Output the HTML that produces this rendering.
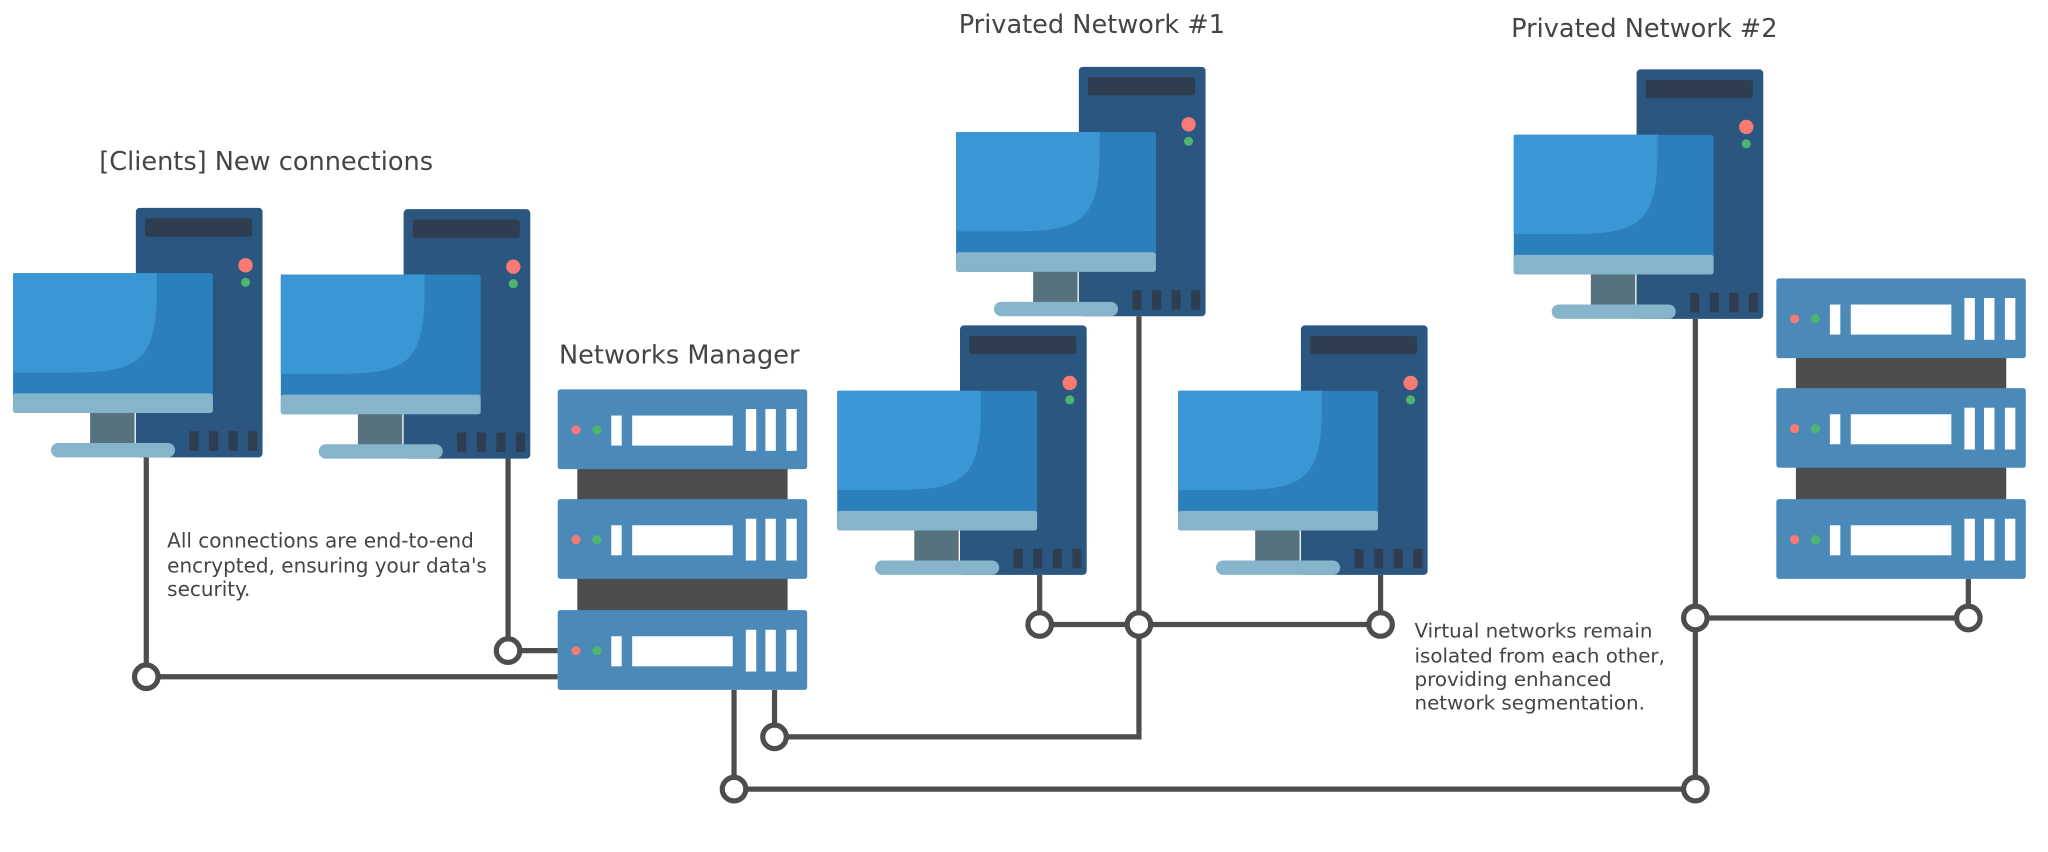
<!DOCTYPE html>
<html><head><meta charset="utf-8"><style>
html,body{margin:0;padding:0;background:#fff;}
svg{display:block;}
text{font-family:"DejaVu Sans","Liberation Sans",sans-serif;fill:#444;}
</style></head><body>
<svg width="2048" height="852" viewBox="0 0 1568 652" xmlns="http://www.w3.org/2000/svg">
<defs>
<g id="pc">
<rect x="0" y="0" width="97" height="191" rx="3" fill="#2a5680"/>
<rect x="7" y="8" width="82" height="14" rx="2" fill="#2e3e50"/>
<circle cx="84" cy="44" r="5.5" fill="#f77b73"/>
<circle cx="84" cy="57" r="3.5" fill="#4db56d"/>
<rect x="41" y="171" width="7" height="15" fill="#2e3e50"/>
<rect x="56" y="171" width="7" height="15" fill="#2e3e50"/>
<rect x="71" y="171" width="7" height="15" fill="#2e3e50"/>
<rect x="86" y="171" width="7" height="15" fill="#2e3e50"/>
<rect x="-94" y="50" width="153" height="107" rx="2" fill="#2b80bc"/>
<path d="M-94 50 H16 V62 C16 118 2 126 -50 126 H-94 Z" fill="#3b97d3"/>
<rect x="-94" y="142" width="153" height="15" rx="2" fill="#86b4cb"/>
<rect x="-35" y="157" width="34" height="24" fill="#55727e"/>
<rect x="-65" y="180" width="95" height="11" rx="5.5" fill="#86b4cb"/>
</g>
<g id="unit">
<rect x="0" y="0" width="191" height="61" rx="2" fill="#4a89b8"/>
<circle cx="14" cy="31" r="3.5" fill="#f77b73"/>
<circle cx="30" cy="31" r="3.5" fill="#4db56d"/>
<rect x="41" y="20" width="8" height="23" fill="#fff"/>
<rect x="57" y="20" width="77" height="23" fill="#fff"/>
<rect x="144" y="15" width="8" height="32" fill="#fff"/>
<rect x="159" y="15" width="8" height="32" fill="#fff"/>
<rect x="175" y="15" width="8" height="32" fill="#fff"/>
</g>
<g id="rack">
<rect x="15" y="55" width="161" height="40" fill="#4d4d4d"/>
<rect x="15" y="139" width="161" height="40" fill="#4d4d4d"/>
<use href="#unit" y="0"/>
<use href="#unit" y="84"/>
<use href="#unit" y="169"/>
</g>
</defs>

<g stroke="#4d4d4d" stroke-width="4" fill="none">
<path d="M112 350 V518 H427"/>
<path d="M389 350 V498 H427"/>
<path d="M593 528 V564 H872 V478"/>
<path d="M562 528 V604 H1298 V244"/>
<path d="M872 242 V478"/>
<path d="M796 440 V478 H1057 V440"/>
<path d="M1298 473 H1507 V443"/>
</g>

<use href="#pc" x="104" y="159"/>
<use href="#pc" x="309" y="160"/>
<use href="#pc" x="826" y="51"/>
<use href="#pc" x="735" y="249"/>
<use href="#pc" x="996" y="249"/>
<use href="#pc" x="1253" y="53"/>
<use href="#rack" x="427" y="298"/>
<use href="#rack" x="1360" y="213"/>

<g stroke="#4d4d4d" stroke-width="4" fill="#fff">
<circle cx="112" cy="518" r="9"/>
<circle cx="389" cy="498" r="9"/>
<circle cx="593" cy="564" r="9"/>
<circle cx="562" cy="604" r="9"/>
<circle cx="1298" cy="604" r="9"/>
<circle cx="1298" cy="473" r="9"/>
<circle cx="1507" cy="473" r="9"/>
<circle cx="796" cy="478" r="9"/>
<circle cx="872" cy="478" r="9"/>
<circle cx="1057" cy="478" r="9"/>
</g>

<text x="76" y="130" font-size="19.6">[Clients] New connections</text>
<text x="428" y="278" font-size="19.6">Networks Manager</text>
<text x="734" y="25" font-size="19.6">Privated Network #1</text>
<text x="1157" y="28" font-size="19.6">Privated Network #2</text>
<text font-size="15.3"><tspan x="128" y="419">All connections are end-to-end</tspan><tspan x="128" y="438">encrypted, ensuring your data's</tspan><tspan x="128" y="456">security.</tspan></text>
<text font-size="15.2"><tspan x="1083" y="488">Virtual networks remain</tspan><tspan x="1083" y="507">isolated from each other,</tspan><tspan x="1083" y="525">providing enhanced</tspan><tspan x="1083" y="543">network segmentation.</tspan></text>
</svg>
</body></html>
